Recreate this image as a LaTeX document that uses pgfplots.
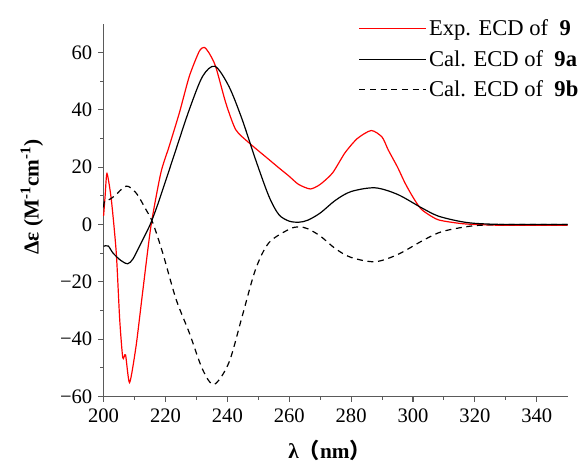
\documentclass[border=0pt]{standalone}
\usepackage{pgfplots}
\pgfplotsset{compat=1.18}
\usepackage{fontspec}
\setmainfont{Liberation Serif}
\newfontfamily\tnr{Liberation Serif}
\newfontfamily\cjk{Noto Sans CJK SC}

\definecolor{expred}{RGB}{255,0,0}
\definecolor{axgray}{RGB}{90,90,90}

\begin{document}
\begin{tikzpicture}
\begin{axis}[
    scale only axis,
    width=349.5pt, height=280.5pt,
    xmin=200, xmax=350,
    ymin=-60, ymax=70,
    axis lines*=left,
    axis line style={axgray, line width=0.9pt},
    every tick/.style={axgray, line width=0.8pt},
    tick align=outside,
    major tick length=4pt,
    minor tick length=2.5pt,
    xtick={200,220,...,340},
    xticklabels={200,220,240,260,280,300,320,340},
    ytick={-60,-40,...,60},
    yticklabels={−60,−40,−20,0,20,40,60},
    minor x tick num=1,
    minor y tick num=1,
    /pgf/number format/assume math mode=true,
    tick label style={font=\tnr\fontsize{15.5}{17}\selectfont},
    xticklabel style={yshift=-2pt},
    yticklabel style={xshift=-1pt},
    clip=false,
    xlabel={\tnr\bfseries λ{\cjk\bfseries （}nm{\cjk\bfseries ）}},
    ylabel={\tnr\bfseries Δε (M\textsuperscript{-1}cm\textsuperscript{-1})},
    every axis x label/.style={at={(rel axis cs:0.487,0)}, anchor=center, yshift=-40.5pt,
        font=\fontsize{16}{18}\selectfont},
    every axis y label/.style={at={(rel axis cs:0,0.536)}, anchor=center, rotate=90, yshift=54pt,
        font=\fontsize{16}{18}\selectfont},
    legend style={at={(axis cs:282.4,72.5)}, anchor=north west, draw=none, fill=none,
        font=\tnr\fontsize{17}{19}\selectfont, row sep=5.5pt, inner sep=0pt},
    legend cell align=left,
    legend image code/.code={\draw[#1] (0pt,0pt) -- (39pt,0pt); \path (0pt,0pt) -- (50pt,0pt);},
]

\addplot[expred, line width=0.9pt, smooth, tension=0.4] coordinates {
(200,3) (200.5,10) (201.1,17.8) (202.5,8.7) (204.1,-9.9) (205.2,-33)
(206.2,-46.5) (207.1,-45.5) (208.4,-55.2) (210.5,-42.4) (212.6,-23.8)
(215.3,-0.6) (218.5,18) (221.2,27.3) (224.5,39) (227.7,51.7) (230.9,60.4)
(232.5,61.8) (234,60) (236.2,55.2) (239.5,42.4) (242.7,33.1) (247,28.5)
(253.4,22.7) (256.6,19.8) (259.9,16.9) (263,14) (266.8,12.4) (270,14)
(274,18) (278,25) (282,30) (286.5,32.8) (290,30.5) (292,26) (295,20)
(297.4,14.5) (300,9.5) (302.8,5.2) (308,1.7) (315,0.4) (320,0) (330,-0.3) (350,-0.3)
};
\addlegendentry{Exp. ECD of\ \ \textbf{9}}

\addplot[black, line width=0.9pt, smooth] coordinates {
(200,-7.6) (201.5,-7.5) (203,-9.9) (205.5,-12.5) (207.8,-13.7) (209.5,-12)
(211.6,-7.6) (213.5,-3.5) (215.3,0.6) (217.5,7) (220.2,15.7) (223.4,26.2)
(227.7,40.1) (232,51.7) (236,55.2) (240.5,48.2) (244.8,36.6) (249.1,22.7)
(253.4,9.9) (256.6,3.5) (259.9,1.2) (263.1,0.8) (266,1.5) (270,4) (275,8.5)
(280,11.5) (287.7,12.8) (295,10.5) (302.8,5.8) (308,3) (314.6,1.2) (320,0.4)
(330,0) (350,0)
};
\addlegendentry{Cal. ECD of\ \ \textbf{9a}}

\addplot[black, line width=0.9pt, smooth, dash pattern=on 4.5pt off 3.5pt] coordinates {
(200,6) (200.3,8.1) (201.5,8.5) (203.5,9.9) (207.3,13.4) (210.5,11)
(213.7,5.2) (215.9,0.6) (219.1,-9.9) (223.4,-26) (227.7,-37.8) (232,-50.6)
(235.7,-55.8) (240.5,-48.2) (244.8,-32) (249.1,-15.7) (253.4,-6.4)
(259.9,-1.7) (263.1,-0.8) (266,-1.5) (270,-4) (275,-8.5) (280,-11.5)
(287.7,-13) (295,-10.5) (302.8,-5.8) (308,-3) (312.4,-1.7) (320,-0.4)
(330,0) (350,0)
};
\addlegendentry{Cal. ECD of\ \ \textbf{9b}}

\end{axis}
\path ([xshift=-78pt,yshift=-47.25pt]current axis.south west)
    rectangle ([xshift=8.25pt,yshift=18pt]current axis.north east);
\end{tikzpicture}
\end{document}
